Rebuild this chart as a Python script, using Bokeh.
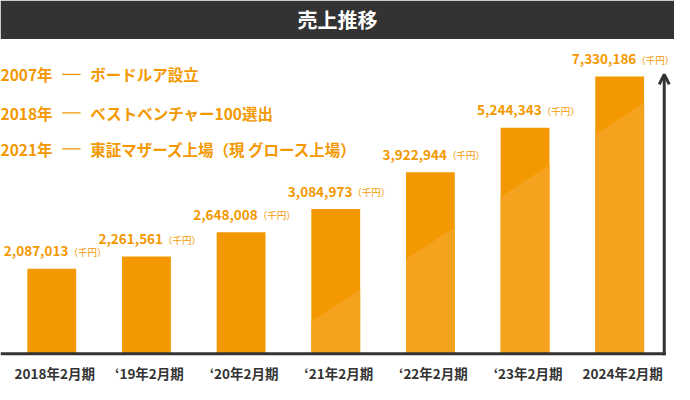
import numpy as np
from bokeh.plotting import figure
from bokeh.models import Range1d, ColumnDataSource, Arrow, OpenHead
from bokeh.core.properties import value
from bokeh.embed import file_html
from bokeh.resources import INLINE

# ---------------- data ----------------
periods = ["2018年2月期", "‘19年2月期", "‘20年2月期", "‘21年2月期",
           "‘22年2月期", "‘23年2月期", "2024年2月期"]
sales = [2087013, 2261561, 2648008, 3084973, 3922944, 5244343, 7330186]  # 千円
unit_text = "（千円）"
milestone_years = ["2007年", "2018年", "2021年"]
milestone_events = ["ボードルア設立", "ベストベンチャー100選出", "東証マザーズ上場（現 グロース上場）"]
title_text = "売上推移"

# ---------------- layout (reference pixel space 690x400) ----------------
REF_W, REF_H = 690, 400
W, H = 674, 384
SX, SY = W / REF_W, H / REF_H
X0, DX = 52.5, 96.9           # first bar centre, bar spacing (ref px)
YB, K = 368.0, 159.4          # baseline y, px per ln-unit (ref px)
BASE = 1.197e6                # value sitting on the baseline (log scale)
BAR_W = 50.0                  # ref px
FONT = "Noto Sans CJK JP"
ORANGE = "#F39800"
LIGHT = "#F5A31E"
DARK = "#333333"


def xd(xr):
    return (np.asarray(xr, dtype=float) - X0) / DX


def yd(yr):
    return BASE * np.exp((YB - np.asarray(yr, dtype=float)) / K)


def yr_of(v):
    return YB - K * np.log(v / BASE)


def diag(xr):
    return 268.3 - 0.67 * (xr - 417.0)


p = figure(width=W, height=H, output_backend="svg", toolbar_location=None,
           x_range=Range1d(float(xd(0)), float(xd(REF_W))),
           y_range=Range1d(float(yd(REF_H)), float(yd(0))),
           y_axis_type="log", x_axis_location=None, y_axis_location=None,
           min_border=0, outline_line_color=None,
           background_fill_color="white", border_fill_color="white")
p.grid.visible = False

idx = np.arange(len(sales))
src = ColumnDataSource(dict(x=idx, top=sales, period=periods,
                            label=[f"{v:,}" for v in sales],
                            unit=[unit_text] * len(sales)))

# bars
p.vbar(x="x", top="top", bottom=BASE, width=BAR_W / DX, source=src,
       fill_color=ORANGE, line_color=None)

# lighter diagonal lower part
pxs, pys = [], []
for i, v in enumerate(sales):
    c = X0 + i * DX
    xl, xr = c - BAR_W / 2, c + BAR_W / 2
    top = yr_of(v)
    dl, dr = diag(xl), diag(xr)
    if dl >= YB and dr >= YB:
        continue
    if dl >= YB:
        xc = 417.0 + (268.3 - YB) / 0.67
        pts = [(xc, YB), (xr, YB), (xr, max(dr, top))]
    else:
        pts = [(xl, YB), (xr, YB), (xr, max(dr, top)), (xl, max(dl, top))]
    pxs.append(list(xd([q[0] for q in pts])))
    pys.append(list(yd([q[1] for q in pts])))
p.patches(pxs, pys, fill_color=LIGHT, line_color=None)

# value labels
p.text(x="x", y="top", text="label", source=src, x_offset=17 * SX, y_offset=-18 * SY,
       text_align="right", text_baseline="middle", text_color=ORANGE,
       text_font=value(FONT), text_font_style="bold", text_font_size="13.5px")
p.text(x="x", y="top", text="unit", source=src, x_offset=17 * SX, y_offset=-17.5 * SY,
       text_align="left", text_baseline="middle", text_color=ORANGE,
       text_font=value(FONT), text_font_size="9.5px")

# category labels
p.text(x="x", y=BASE, text="period", source=src, x_offset=3, y_offset=20.5 * SY,
       text_align="center", text_baseline="middle", text_color=DARK,
       text_font=value(FONT), text_font_style="bold", text_font_size="13.5px")

# baseline and arrow
p.segment(x0=float(xd(0)), y0=BASE, x1=float(xd(681)), y1=BASE,
          line_color=DARK, line_width=3)
p.add_layout(Arrow(end=OpenHead(size=10, line_color=DARK, line_width=3),
                   x_start=float(xd(679.5)), y_start=float(yd(369.5)),
                   x_end=float(xd(679.5)), y_end=float(yd(77)),
                   line_color=DARK, line_width=3))

# title bar
p.quad(left=float(xd(0)), right=float(xd(REF_W)), bottom=float(yd(40)), top=float(yd(0)),
       fill_color=DARK, line_color=None)
p.text(x=[float(xd(345))], y=[float(yd(20))], text=[title_text], text_align="center",
       text_baseline="middle", text_color="white", text_font=value(FONT),
       text_font_style="bold", text_font_size="20px")

# milestones
rows_y = [77, 117, 154.5]
p.text(x=[float(xd(0))] * 3, y=list(yd(rows_y)), text=milestone_years,
       text_align="left", text_baseline="middle", text_color=ORANGE,
       text_font=value(FONT), text_font_style="bold", text_font_size="15.5px")
p.segment(x0=[float(xd(63))] * 3, y0=list(yd(rows_y)), x1=[float(xd(82))] * 3,
          y1=list(yd(rows_y)), line_color=ORANGE, line_width=1.2)
p.text(x=[float(xd(92))] * 3, y=list(yd(rows_y)), text=milestone_events,
       text_align="left", text_baseline="middle", text_color=ORANGE,
       text_font=value(FONT), text_font_style="bold", text_font_size="15.5px")

open("out.html", "w").write(file_html(p, INLINE))
